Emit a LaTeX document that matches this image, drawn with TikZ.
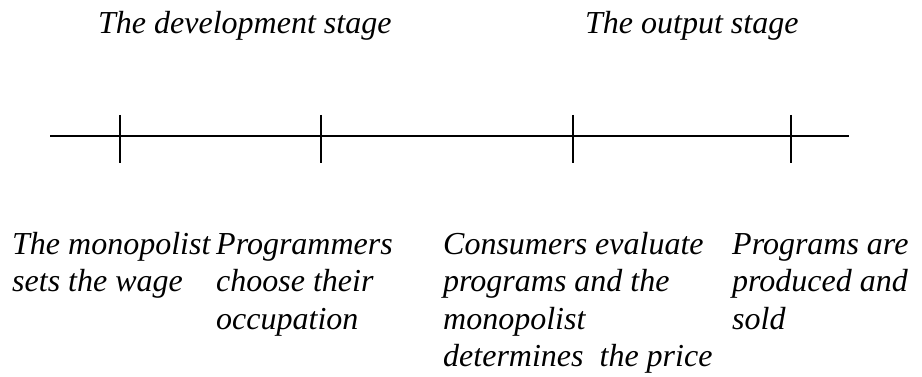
\documentclass[tikz,border=0pt]{standalone}
\usepackage{fontspec}
\setmainfont{Liberation Serif}
\usetikzlibrary{positioning}
\tikzstyle{stage} = [font=\fontsize{32}{37.5}\selectfont\itshape, inner sep=0pt, anchor=base west]
\tikzstyle{event} = [font=\fontsize{32}{37.5}\selectfont\itshape, inner sep=0pt, anchor=base west, align=left]
\tikzstyle{axis} = [draw, line width=1.8pt]
\tikzstyle{tickline} = [draw, line width=1.4pt]

\begin{document}
\begin{tikzpicture}[x=1pt, y=-1pt]
        \useasboundingbox (0,0) rectangle (922,377);

        \node[stage] (dev) at (98,34) {The development stage};
        \node[stage] (out) at (585,34) {The output stage};

        \coordinate (start) at (50,136);
        \coordinate (end) at (849,136);
        \path[axis] (start) -- (end);

        \foreach \x/\n in {120/wage, 321/occ, 573/price, 791/sold} {
            \coordinate (\n top) at (\x,115);
            \coordinate (\n bot) at (\x,163);
            \path[tickline] (\n top) -- (\n bot);
        }

        % base anchor of a multi-line node is its last line
        \node[event] (wage) at (12,291.5) {The monopolist\\sets the wage};
        \node[event] (occ) at (216,329) {Programmers\\choose their\\occupation};
        \node[event] (price) at (443,366.5) {Consumers evaluate\\programs and the\\monopolist\\determines~ the price};
        \node[event] (sold) at (732,329) {Programs are\\produced and\\sold};
    \end{tikzpicture}
\end{document}
